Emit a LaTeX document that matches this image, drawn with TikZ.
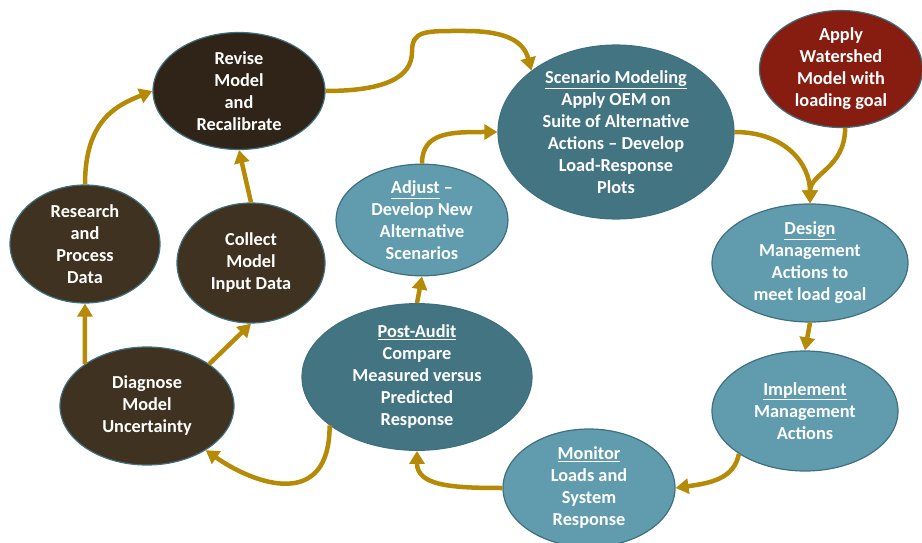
\documentclass[tikz,border=0pt]{standalone}
\usepackage{fontspec}
\setmainfont{Carlito}
\usepackage{tikz}
\usetikzlibrary{shapes.geometric, arrows.meta, positioning}
\definecolor{revisebrown}{HTML}{2F2417}
\definecolor{modelbrown}{HTML}{403220}
\definecolor{deepteal}{HTML}{437482}
\definecolor{paleteal}{HTML}{609CAD}
\definecolor{goalred}{HTML}{861D10}
\definecolor{loopgold}{HTML}{B58A06}
\definecolor{rimblue}{HTML}{3F7080}

\begin{document}
\begin{tikzpicture}[x=1pt,y=-1pt]
\tikzstyle{stage} = [ellipse, draw=rimblue, line width=1.2pt, text=white, align=center, inner sep=0pt, font=\bfseries\fontsize{18.3}{22}\selectfont]
\tikzstyle{arrow} = [line width=4.5pt, draw=loopgold, -{Triangle[length=13pt,width=15pt]}]

\useasboundingbox (0,0) rectangle (922,543);

% model loop (brown)
\node (revise) [stage, fill=revisebrown, minimum width=172pt, minimum height=117pt] at (239,91) {Revise\\Model\\and\\Recalibrate};
\node (research) [stage, fill=modelbrown, minimum width=150pt, minimum height=118pt] at (85,244) {Research\\and\\Process\\Data};
\node (collect) [stage, fill=modelbrown, minimum width=148pt, minimum height=120pt] at (251,263) {Collect\\Model\\Input Data};
\node (diagnose) [stage, fill=modelbrown, minimum width=174pt, minimum height=118pt] at (147,406) {Diagnose\\Model\\Uncertainty};

% management loop (teal)
\node (scenario) [stage, fill=deepteal, minimum width=236pt, minimum height=170pt] at (616,132) {\underline{Scenario Modeling}\\Apply OEM on\\Suite of Alternative\\Actions -- Develop\\Load-Response\\Plots};
\node (apply) [stage, fill=goalred, minimum width=163pt, minimum height=117pt] at (841,69) {Apply\\Watershed\\Model with\\loading goal};
\node (design) [stage, fill=paleteal, minimum width=196pt, minimum height=118pt] at (810,263) {\underline{Design}\\Management\\Actions to\\meet load goal};
\node (implement) [stage, fill=paleteal, minimum width=186pt, minimum height=120pt] at (805,411) {\underline{Implement}\\Management\\Actions};
\node (monitor) [stage, fill=paleteal, minimum width=172pt, minimum height=118pt] at (589,488) {\underline{Monitor}\\Loads and\\System\\Response};
\node (postaudit) [stage, fill=deepteal, minimum width=230pt, minimum height=128pt] at (417,377) {\underline{Post-Audit}\\Compare\\Measured versus\\Predicted\\Response};
\node (adjust) [stage, fill=paleteal, minimum width=172pt, minimum height=104pt] at (422,220) {\underline{Adjust} --\\Develop New\\Alternative\\Scenarios};

\draw [arrow] (revise.east) .. controls +(60,0) and +(0,25) .. (412,52) .. controls +(0,-22) and +(-40,0) .. (465,31) .. controls +(40,0) and +(-8,-30) .. (scenario.144);
\draw [arrow] (adjust.north) .. controls +(0,-32) and +(-45,0) .. (scenario.west);
\draw [arrow] (scenario.east) .. controls +(50,0) and +(0,-40) .. (design.north);
\draw [arrow] (apply.-86) .. controls +(0,40) and +(0,-30) .. (design.north);
\draw [arrow] (design.south) -- (implement.north);
\draw [arrow] (implement.213) .. controls +(-5,25) and +(35,-5) .. (monitor.east);
\draw [arrow] (monitor.west) .. controls +(-50,0) and +(0,35) .. (postaudit.south);
\draw [arrow] (postaudit.north) -- (adjust.south);
\draw [arrow] (postaudit.209) .. controls +(0,85) and +(50,35) .. (diagnose.-37);
\draw [arrow] (diagnose.146) -- (research.south);
\draw [arrow] (diagnose.34) -- (collect.south);
\draw [arrow] (collect.north) -- (revise.south);
\draw [arrow] (research.north) .. controls +(0,-65) and +(-35,14) .. (revise.west);
\end{tikzpicture}
\end{document}
